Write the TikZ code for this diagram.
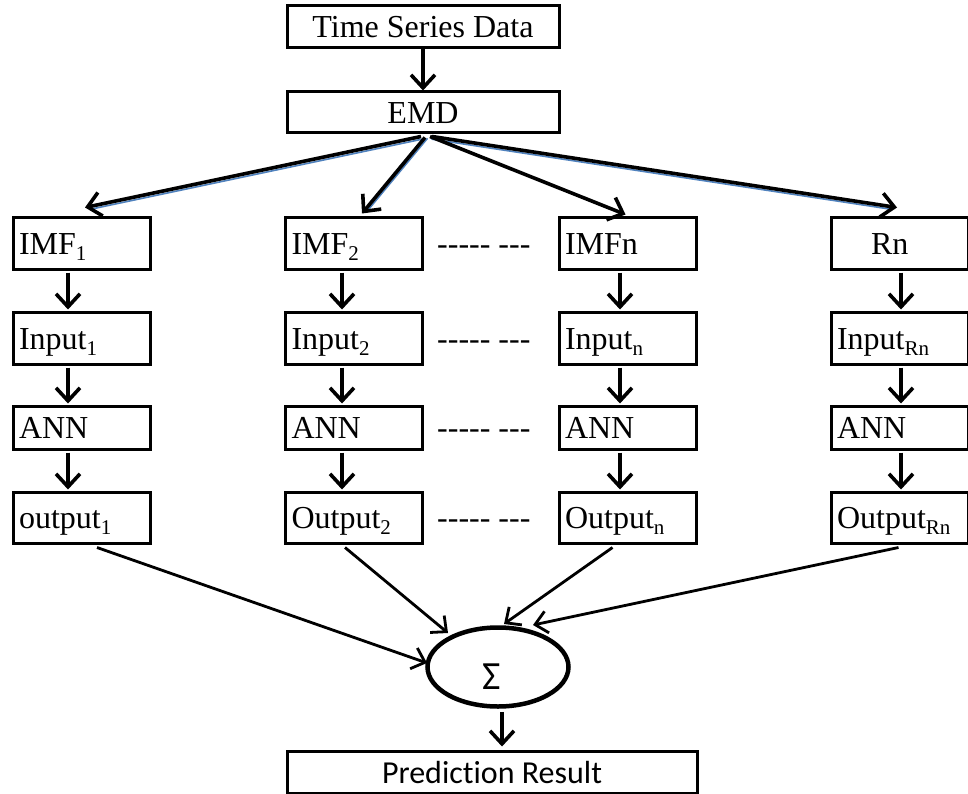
\documentclass[tikz,border=0pt]{standalone}
\usepackage{fontspec}
\setmainfont{Liberation Serif}
\newfontfamily\calibfont[Ligatures=NoCommon]{Carlito}
\usetikzlibrary{arrows.meta,shapes.geometric,calc}
\definecolor{glintblue}{RGB}{79,129,189}
% lowered index, as used in IMF_1, Input_n, ...
\newcommand\lowidx[1]{\raisebox{-6pt}{\fontsize{21}{21}\selectfont #1}}
% a hyphen that does not fuse into en/em dashes
\newcommand\hy{-\kern0pt}

\begin{document}
\begin{tikzpicture}[x=1pt,y=-1pt,
  every node/.style={font=\fontsize{32}{32}\selectfont},
  frame/.style={draw,line width=3pt,inner sep=0pt,text height=22pt,text depth=0pt},
  cell/.style={frame,inner xsep=6pt,text width=125pt,align=left},
  arr/.style={line width=3.6pt,-{Straight Barb[length=13pt,width=24pt]}},
  thinarr/.style={line width=2.8pt,-{Straight Barb[length=12pt,width=22pt]}},
  glint/.style={glintblue,line width=1.6pt,shorten >=4pt},
]
\useasboundingbox (0,0) rectangle (968,794);

% top of the flow
\node[frame,minimum width=272pt,minimum height=42pt] (tsd) at (423,27) {Time Series Data};
\node[frame,minimum width=272pt,minimum height=41pt] (emd) at (423,112.5) {EMD};

% component rows
\node[cell,minimum height=51pt] (t1) at (81.5,243.5) {IMF\lowidx{1}};
\node[cell,minimum height=51pt] (t2) at (354,243.5) {IMF\lowidx{2}};
\node[cell,minimum height=51pt] (tn) at (627.5,243.5) {IMFn};
\node[cell,minimum height=51pt] (tr) at (899.5,243.5) {\hspace*{34pt}Rn};

\node[cell,minimum height=52pt] (i1) at (81.5,338) {Input\lowidx{1}};
\node[cell,minimum height=52pt] (i2) at (354,338) {Input\lowidx{2}};
\node[cell,minimum height=52pt] (in) at (627.5,338) {Input\lowidx{n}};
\node[cell,minimum height=52pt] (ir) at (899.5,338) {Input\lowidx{Rn}};

\node[cell,minimum height=43pt] (a1) at (81.5,427.5) {ANN};
\node[cell,minimum height=43pt] (a2) at (354,427.5) {ANN};
\node[cell,minimum height=43pt] (an) at (627.5,427.5) {ANN};
\node[cell,minimum height=43pt] (ar) at (899.5,427.5) {ANN};

\node[cell,minimum height=51pt] (o1) at (81.5,517.5) {output\lowidx{1}};
\node[cell,minimum height=51pt] (o2) at (354,517.5) {Output\lowidx{2}};
\node[cell,minimum height=51pt] (on) at (627.5,517.5) {Output\lowidx{n}};
\node[cell,minimum height=51pt] (or) at (899.5,517.5) {Output\lowidx{Rn}};

% ellipsis dashes between the second and n-th columns
\foreach \r/\y in {d1/243.5,d2/338,d3/427.5,d4/517.5}
  \node[anchor=base west,inner sep=0pt] (\r) at (437,\y+11) {\hy\hy\hy\hy- \hy\hy-};

% summation and result
\node[draw,ellipse,line width=4.5pt,minimum width=141pt,minimum height=79pt,inner sep=0pt] (sum) at (498,667) {};
\node[font=\calibfont\fontsize{40}{40}\selectfont,inner sep=0pt] (sig) at (492,677) {Σ};
\node[frame,minimum width=410pt,minimum height=42pt,font=\calibfont\fontsize{32}{32}\selectfont] (pred) at (492,772) {Prediction Result};

% connectors
\draw[arr] (tsd.south) -- (emd.north);

\draw[glint] ($(emd.south)+(-0.5,4.6)$) -- ($(t1.north)+(5,-6.4)$);
\draw[glint] ($(emd.south)+(4.5,3.8)$) -- ($(t2.north)+(10.5,-2.2)$);
\draw[glint] ($(emd.south)+(8.5,4.6)$) -- ($(tr.north)+(-3,-6.4)$);
\draw[arr] ($(emd.south)+(-2,2)$) -- ($(t1.north)+(3.5,-9)$);
\draw[arr] ($(emd.south)+(2,3)$) -- ($(t2.north)+(8,-3)$);
\draw[arr] ($(emd.south)+(7,2)$) -- ($(tn.north)+(-2,-2)$);
\draw[arr] ($(emd.south)+(9,2)$) -- ($(tr.north)+(-2.5,-9)$);

\foreach \c/\dx in {1/-13.5,2/-12,n/-7.5,r/1.5} {
  \draw[arr] ($(t\c.south)+(\dx,2)$) -- ($(i\c.north)+(\dx,-1)$);
  \draw[arr] ($(i\c.south)+(\dx,2)$) -- ($(a\c.north)+(\dx,-1)$);
  \draw[arr] ($(a\c.south)+(\dx,2)$) -- ($(o\c.north)+(\dx,-1)$);
}

\draw[thinarr] ($(o1.south)+(15.5,3)$) -- ($(sum.center)+(-71,-4)$);
\draw[thinarr] ($(o2.south)+(-9,3)$) -- ($(sum.center)+(-50,-34)$);
\draw[thinarr] ($(on.south)+(-15,3)$) -- ($(sum.center)+(6,-43)$);
\draw[thinarr] ($(or.south)+(-1,3)$) -- ($(sum.center)+(35,-42)$);

\draw[arr] ($(sum.south)+(4,3)$) -- ($(pred.north)+(10,-3)$);
\end{tikzpicture}
\end{document}
